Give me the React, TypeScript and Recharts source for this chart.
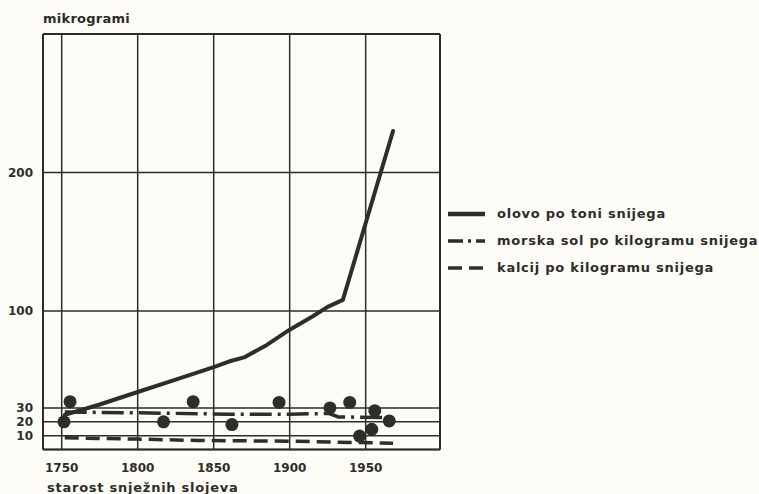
import React from 'react'
import { ComposedChart, Line, Scatter, XAxis, YAxis, CartesianGrid, ReferenceLine, Legend } from 'recharts'

// olovo po toni snijega (mikrogrami)
const leadYears = [1752, 1775, 1800, 1825, 1850, 1860, 1870, 1885, 1900, 1915, 1925, 1935, 1968]
const leadValues = [25, 32.5, 41.5, 50.5, 59.5, 63.5, 66.5, 75.5, 86.5, 96, 103, 108, 230]

// morska sol po kilogramu snijega
const saltYears = [1752, 1800, 1860, 1900, 1926, 1932, 1966]
const saltValues = [27, 26.5, 25.5, 25.5, 26, 23.5, 23]

// kalcij po kilogramu snijega
const calciumYears = [1752, 1800, 1840, 1900, 1968]
const calciumValues = [8.5, 7.5, 6.5, 6, 4.5]

// izmjerene točke
const dotYears = [1751.5, 1755.5, 1817, 1836.5, 1862, 1893, 1926.5, 1939.5, 1946, 1954, 1956, 1965.5]
const dotValues = [20, 34.5, 20, 34.5, 18, 34, 30, 34, 9.7, 14.6, 28, 20.6]

const xTicks = [1750, 1800, 1850, 1900, 1950]
const yTicks = [10, 20, 30, 100, 200]

const X_MIN = 1737.7
const X_MAX = 1998.9
const Y_MAX = 300

const INK = '#2d2d2a'
const FONT = '"DejaVu Sans", Verdana, sans-serif'

const toPoints = (xs: number[], ys: number[]) => xs.map((x, i) => ({ year: x, value: ys[i] }))

const lead = toPoints(leadYears, leadValues)
const salt = toPoints(saltYears, saltValues)
const calcium = toPoints(calciumYears, calciumValues)
const dots = toPoints(dotYears, dotValues)

const tickStyle = { fontFamily: FONT, fontSize: 12, fontWeight: 700, fill: INK }

function LegendBox() {
  const rows = [
    { label: 'olovo po toni snijega', dash: undefined as string | undefined, w: 4.5 },
    { label: 'morska sol po kilogramu snijega', dash: '15 5 3 5', w: 3.5 },
    { label: 'kalcij po kilogramu snijega', dash: '14 7', w: 3.5 },
  ]
  return (
    <div>
      {rows.map((r) => (
        <div key={r.label} style={{ display: 'flex', alignItems: 'center', height: 27 }}>
          <svg width={40} height={10} style={{ marginLeft: 2 }}>
            <line x1={0} y1={5} x2={37} y2={5} stroke={INK} strokeWidth={r.w} strokeDasharray={r.dash} />
          </svg>
          <span style={{ marginLeft: 9, fontFamily: FONT, fontSize: 13, fontWeight: 700, letterSpacing: 0.75, color: INK, lineHeight: '13px', whiteSpace: 'nowrap' }}>
            {r.label}
          </span>
        </div>
      ))}
    </div>
  )
}

export default function App() {
  return (
    <div style={{ position: 'absolute', left: 0, top: 0, width: 759, height: 494, background: '#fdfcf6' }}>
      <div style={{ position: 'absolute', left: 43, top: 12, fontFamily: FONT, fontSize: 13, fontWeight: 700, letterSpacing: 0.25, color: INK, lineHeight: '13px' }}>
        mikrogrami
      </div>
      <ComposedChart width={759} height={494} margin={{ top: 34, right: 319, bottom: 0, left: 0 }}>
        <CartesianGrid stroke={INK} strokeWidth={1.5} />
        <XAxis
          type="number"
          dataKey="year"
          domain={[X_MIN, X_MAX]}
          ticks={xTicks}
          allowDataOverflow
          height={44.5}
          tickLine={false}
          axisLine={false}
          tickSize={0}
          tickMargin={14}
          tick={tickStyle}
          interval={0}
        />
        <YAxis
          type="number"
          dataKey="value"
          domain={[0, Y_MAX]}
          ticks={yTicks}
          allowDataOverflow
          width={43}
          tickLine={false}
          axisLine={false}
          tickSize={0}
          tickMargin={10}
          tick={tickStyle}
          interval={0}
        />
        <ReferenceLine x={X_MIN} stroke={INK} strokeWidth={2} />
        <ReferenceLine x={X_MAX} stroke={INK} strokeWidth={2} />
        <ReferenceLine y={0} stroke={INK} strokeWidth={2} />
        <ReferenceLine y={Y_MAX} stroke={INK} strokeWidth={2} />
        <Line data={calcium} dataKey="value" type="linear" stroke={INK} strokeWidth={3.5} strokeDasharray="14 7" dot={false} isAnimationActive={false} />
        <Line data={salt} dataKey="value" type="linear" stroke={INK} strokeWidth={3.5} strokeDasharray="22 6 3 6" dot={false} isAnimationActive={false} />
        <Line data={lead} dataKey="value" type="linear" stroke={INK} strokeWidth={4} strokeLinejoin="round" strokeLinecap="round" dot={false} isAnimationActive={false} />
        <Scatter
          data={dots}
          dataKey="value"
          fill={INK}
          isAnimationActive={false}
          shape={(p: any) => <circle cx={p.cx} cy={p.cy} r={6.5} fill={INK} />}
        />
        <Legend
          layout="vertical"
          align="center"
          verticalAlign="middle"
          content={() => <LegendBox />}
          wrapperStyle={{ position: 'absolute', left: 446, top: 200, width: 313, height: 81 }}
        />
      </ComposedChart>
      <div style={{ position: 'absolute', left: 47, top: 481, fontFamily: FONT, fontSize: 13, fontWeight: 700, letterSpacing: 0.75, color: INK, lineHeight: '13px', whiteSpace: 'nowrap' }}>
        starost snježnih slojeva
      </div>
    </div>
  )
}
